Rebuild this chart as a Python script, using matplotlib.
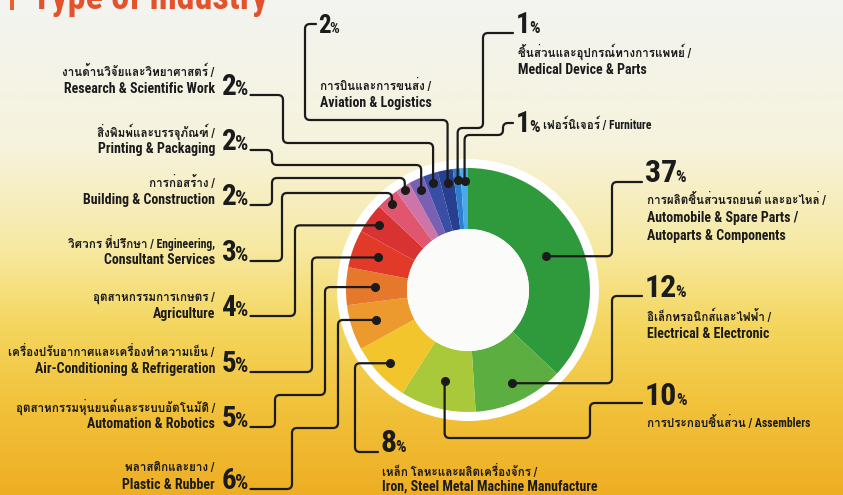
import numpy as np
import matplotlib
matplotlib.use("Agg")
import matplotlib.pyplot as plt
from matplotlib.path import Path
from matplotlib.patches import PathPatch, Circle, Rectangle
from matplotlib.colors import LinearSegmentedColormap
from matplotlib import font_manager as fm

# ------------------------------------------------------------------ data
title = "Type of Industry"
industries_en = [
    ["Automobile & Spare Parts /", "Autoparts & Components"],
    ["Electrical & Electronic"],
    ["Assemblers"],
    ["Iron, Steel Metal Machine Manufacture"],
    ["Plastic & Rubber"],
    ["Automation & Robotics"],
    ["Air-Conditioning & Refrigeration"],
    ["Agriculture"],
    ["Consultant Services"],
    ["Building & Construction"],
    ["Printing & Packaging"],
    ["Research & Scientific Work"],
    ["Aviation & Logistics"],
    ["Medical Device & Parts"],
    ["Furniture"],
]
industries_th = [
    "การผลิตชิ้นส่วนรถยนต์ และอะไหล่ /",
    "อิเล็กทรอนิกส์และไฟฟ้า /",
    "การประกอบชิ้นส่วน /",
    "เหล็ก โลหะและผลิตเครื่องจักร /",
    "พลาสติกและยาง /",
    "อุตสาหกรรมหุ่นยนต์และระบบอัตโนมัติ /",
    "เครื่องปรับอากาศและเครื่องทำความเย็น /",
    "อุตสาหกรรมการเกษตร /",
    "วิศวกร ที่ปรึกษา / Engineering,",
    "การก่อสร้าง /",
    "สิ่งพิมพ์และบรรจุภัณฑ์ /",
    "งานด้านวิจัยและวิทยาศาสตร์ /",
    "การบินและการขนส่ง /",
    "ชิ้นส่วนและอุปกรณ์ทางการแพทย์ /",
    "เฟอร์นิเจอร์ /",
]
shares = [37, 12, 10, 8, 6, 5, 5, 4, 3, 2, 2, 2, 2, 1, 1]
colors = ["#2f9a3c", "#5cae40", "#a9c93b", "#f2c52c", "#ec9a2d", "#e6782c",
          "#e23a28", "#d93232", "#e0566e", "#cf74a8", "#7a60b2", "#3a4ea6",
          "#263f8f", "#2b80d2", "#48aae8"]

# ------------------------------------------------------------------ fonts
names = {f.name for f in fm.fontManager.ttflist}


def pick(*cands):
    for c in cands:
        if c in names:
            return c
    return "DejaVu Sans"


LATIN = pick("Liberation Sans Narrow", "Roboto Condensed", "Open Sans Condensed",
             "Liberation Sans", "Roboto")
NARROW = LATIN in ("Liberation Sans Narrow", "Roboto Condensed", "Open Sans Condensed")

thai = None
try:
    from fontTools.ttLib import TTFont
    for f in fm.fontManager.ttflist:
        try:
            tt = TTFont(f.fname, fontNumber=0, lazy=True)
            cm = tt.getBestCmap()
            if cm and 0x0E01 in cm and 0x0E49 in cm:
                thai = f.name
                break
        except Exception:
            pass
except Exception:
    pass

FAM = [LATIN] + ([thai] if thai else []) + ["DejaVu Sans"]
EN_FS = 10.0 if NARROW else 8.4
TH_FS = 8.4 if NARROW else 7.6
INK = "#1b1b1b"

# ------------------------------------------------------------------ figure
W, H = 843, 495
fig = plt.figure(figsize=(W / 100, H / 100), dpi=100)
ax = fig.add_axes([0, 0, 1, 1])


def Y(py):
    return H - py


# background gradient
grad_cmap = LinearSegmentedColormap.from_list(
    "bg", [(0.0, "#f3f3f1"), (0.30, "#f6f3dc"), (0.50, "#f7e9a2"),
           (0.66, "#f4d65e"), (0.82, "#f1c23a"), (1.0, "#eeae24")])
g = np.linspace(0, 1, 256).reshape(-1, 1)
ax.imshow(g, cmap=grad_cmap, extent=(0, W, 0, H), aspect="auto",
          origin="upper", zorder=0)

# donut
cx, cy = 468, Y(290)
R_OUT, R_IN = 122, 61
ax.add_patch(Circle((cx, cy), 131, facecolor="white", edgecolor="none", zorder=1))
wedges, _ = ax.pie(shares, colors=colors, startangle=90, counterclock=False,
                   radius=R_OUT, center=(cx, cy),
                   wedgeprops=dict(width=R_OUT - R_IN, linewidth=0))
for w in wedges:
    w.set_zorder(2)
ax.add_patch(Circle((cx, cy), R_IN, facecolor="#fbfbfa", edgecolor="none", zorder=3))

ax.set_xlim(0, W)
ax.set_ylim(0, H)
ax.set_aspect("auto")
ax.axis("off")

# dot positions on wedges (radius per label = layout)
dot_r = [85, 103, 94, 107, 97, 93, 96, 110, 115, 118, 110, 113, 109, 110, 109]
dots = []
for w, r in zip(wedges, dot_r):
    a = np.deg2rad((w.theta1 + w.theta2) / 2)
    dots.append((cx + r * np.cos(a), cy + r * np.sin(a)))

renderer = fig.canvas.get_renderer()
inv = ax.transData.inverted()


def text(x, py, s, fs, **kw):
    return ax.text(x, Y(py), s, family=FAM, color=INK, fontsize=fs,
                   fontweight="bold", va="center", zorder=6, **kw)


def th(x, py, s, **kw):
    return text(x, py, s, TH_FS, **kw)


def en(x, py, s, **kw):
    return text(x, py, s, EN_FS, **kw)


def pct(x, base_py, value, big, small):
    t1 = ax.text(x, Y(base_py), str(value), family=FAM, color=INK, fontsize=big,
                 fontweight="heavy", ha="left", va="baseline", zorder=6)
    e = t1.get_window_extent(renderer)
    x1 = inv.transform((e.x1, e.y0))[0]
    t2 = ax.text(x1 - 1.5, Y(base_py), "%", family=FAM, color=INK, fontsize=small,
                 fontweight="heavy", ha="left", va="baseline", zorder=6)
    e2 = t2.get_window_extent(renderer)
    return inv.transform((e2.x1, e2.y0))[0]


def rounded(points, r=5):
    verts, codes = [points[0]], [Path.MOVETO]
    for i in range(1, len(points) - 1):
        p0, p1, p2 = map(np.asarray, (points[i - 1], points[i], points[i + 1]))
        d0 = p1 - p0
        d1 = p2 - p1
        l0, l1 = np.hypot(*d0), np.hypot(*d1)
        rr = min(r, l0 / 2, l1 / 2)
        a = p1 - d0 / l0 * rr if l0 else p1
        b = p1 + d1 / l1 * rr if l1 else p1
        verts += [tuple(a), tuple(p1), tuple(b)]
        codes += [Path.LINETO, Path.CURVE3, Path.CURVE3]
    verts.append(points[-1])
    codes.append(Path.LINETO)
    return Path(verts, codes)


def leader(i, pts_px):
    dx, dy = dots[i]
    pts = [(x, Y(py)) for x, py in pts_px] + [(dx, dy)]
    ax.add_patch(PathPatch(rounded(pts), facecolor="none", edgecolor=INK,
                           lw=1.6, zorder=5, capstyle="round"))
    ax.plot([dx], [dy], "o", color=INK, ms=5.5, zorder=7)


def dpy(i):
    return H - dots[i][1]


def dpx(i):
    return dots[i][0]


# ---------------- left-hand labels ----------------
TX = 215
left_items = {
    11: (72, 95), 10: (132, 150), 9: (183, 205), 8: (243, 261),
    7: (297, 316), 6: (352, 372), 5: (407, 427), 4: (468, 489),
}
left_end = {}
for i, (ty, base) in left_items.items():
    th(TX, ty, industries_th[i], ha="right")
    en(TX, ty + 17, industries_en[i][0], ha="right")
    left_end[i] = pct(222, base, shares[i], 21, 15) + 2

e = left_end
leader(11, [(e[11], 95), (283, 95), (283, 143), (dpx(11), 143)])
leader(10, [(e[10], 150), (272, 150), (272, 165), (dpx(10), 165)])
leader(9, [(e[9], 205), (272, 205), (272, 178), (dpx(9), 178)])
leader(8, [(e[8], 261), (282, 261), (282, 193), (dpx(8), 193)])
leader(7, [(e[7], 316), (295, 316), (295, dpy(7))])
leader(6, [(e[6], 372), (312, 372), (312, dpy(6))])
leader(5, [(e[5], 427), (275, 427), (275, 395), (325, 395), (325, dpy(5))])
leader(4, [(e[4], 489), (292, 489), (292, 428), (338, 428), (338, dpy(4))])

# ---------------- right / top / bottom labels ----------------
# Automobile
pct(645, 182, shares[0], 23, 12)
th(647, 200, industries_th[0], ha="left")
en(647, 218, industries_en[0][0], ha="left")
en(647, 236, industries_en[0][1], ha="left")
leader(0, [(642, 182), (612, 182), (612, dpy(0))])

# Electrical
pct(645, 297, shares[1], 23, 12)
th(647, 317, industries_th[1], ha="left")
en(647, 334, industries_en[1][0], ha="left")
leader(1, [(642, 296), (612, 296), (612, dpy(1))])

# Assemblers
pct(645, 405, shares[2], 23, 12)
th(647, 423, industries_th[2] + " " + industries_en[2][0], ha="left")
leader(2, [(642, 403), (590, 403), (590, 438), (dpx(2), 438)])

# Iron
pct(381, 452, shares[3], 23, 12)
th(382, 472, industries_th[3], ha="left")
en(382, 487, industries_en[3][0], ha="left")
leader(3, [(378, 452), (355, 452), (355, dpy(3))])

# Aviation
pct(318, 33, shares[12], 18, 11)
th(320, 86, industries_th[12], ha="left")
en(320, 103, industries_en[12][0], ha="left")
leader(12, [(316, 24), (305, 24), (305, 120), (dpx(12), 120)])

# Medical
pct(516, 33, shares[13], 21, 12)
th(518, 52, industries_th[13], ha="left")
en(518, 70, industries_en[13][0], ha="left")
leader(13, [(513, 33), (483, 33), (483, 128), (dpx(13), 128)])

# Furniture
fe = pct(516, 132, shares[14], 21, 12)
th(fe + 3, 125, industries_th[14] + " " + industries_en[14][0], ha="left")
leader(14, [(513, 123), (503, 123), (503, 135), (dpx(14), 135)])

# ---------------- title (cropped at the top edge, as in the source) ----------------
ax.add_patch(Rectangle((10, Y(10)), 4, 12, facecolor="#e8602a",
                       edgecolor="none", zorder=6))
ax.text(32, Y(9), title, family=FAM, color="#e2522b", fontsize=26,
        fontweight="heavy", ha="left", va="baseline", zorder=6)

fig.savefig("out.png", dpi=100)
